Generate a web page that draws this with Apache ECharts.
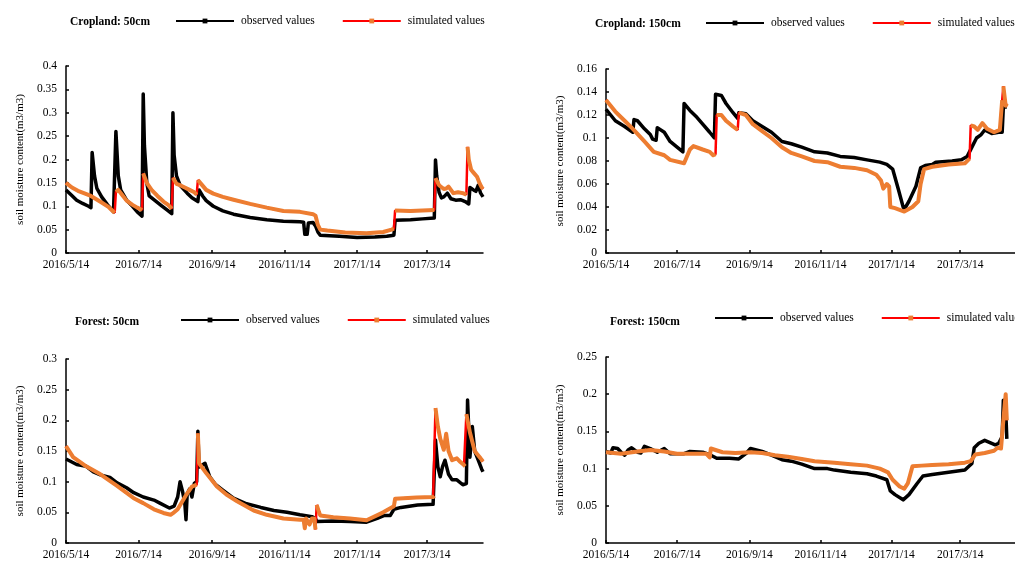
<!DOCTYPE html>
<html>
<head>
<meta charset="utf-8">
<script src="https://cdn.jsdelivr.net/npm/echarts@6/dist/echarts.min.js"></script>
<style>
  html, body { margin: 0; padding: 0; background: #fff; }
  #chart { width: 1015px; height: 563px; }
</style>
</head>
<body>
<div id="chart"></div>
<script>
// Daily axis: 2016/5/14 .. 2017/4/30 (day index 0 .. 351)
const START = { y: 2016, m: 4, d: 14 };
const DAY_COUNT = 352;
const tickLabels = ['2016/5/14', '2016/7/14', '2016/9/14', '2016/11/14', '2017/1/14', '2017/3/14'];

const panelTitles = ['Cropland: 50cm', 'Cropland: 150cm', 'Forest: 50cm', 'Forest: 150cm'];
const yMaxes = [0.4, 0.16, 0.3, 0.25];
const yIntervals = [0.05, 0.02, 0.05, 0.05];

// Soil moisture, [day since 2016/5/14, m3/m3]
const cropObs50 = [
  [0,0.135],[4,0.125],[9,0.113],[14,0.106],[19,0.100],[21,0.097],[22,0.215],[24,0.165],[26,0.138],
  [30,0.120],[35,0.103],[40,0.088],[41,0.085],[42,0.260],[44,0.165],[46,0.135],[51,0.113],[56,0.100],
  [60,0.088],[64,0.079],[65,0.340],[66,0.230],[68,0.150],[70,0.122],[75,0.112],[80,0.102],[85,0.092],
  [89,0.084],[90,0.300],[91,0.210],[93,0.165],[96,0.145],[102,0.128],[106,0.118],[111,0.110],[112,0.135],
  [115,0.122],[118,0.112],[124,0.100],[132,0.090],[141,0.083],[155,0.076],[169,0.071],[183,0.068],
  [197,0.067],[200,0.066],[201,0.040],[203,0.040],[204,0.064],[208,0.065],[210,0.058],[212,0.045],
  [214,0.038],[230,0.036],[245,0.033],[260,0.034],[270,0.036],[276,0.038],[277,0.070],[290,0.071],
  [300,0.073],[310,0.075],[311,0.199],[312,0.165],[314,0.130],[316,0.118],[318,0.120],[321,0.128],
  [324,0.116],[328,0.113],[332,0.114],[336,0.110],[339,0.105],[340,0.140],[343,0.135],[345,0.132],
  [347,0.145],[349,0.128],[351,0.120]
];
const cropSim50 = [
  [0,0.150],[5,0.140],[10,0.133],[15,0.128],[21,0.122],[30,0.108],[36,0.098],[41,0.086],[42,0.131],
  [44,0.135],[47,0.125],[51,0.112],[56,0.103],[60,0.097],[64,0.092],[65,0.170],[68,0.150],[72,0.135],
  [77,0.122],[82,0.110],[86,0.103],[89,0.095],[90,0.161],[93,0.148],[96,0.145],[100,0.140],[104,0.135],
  [108,0.130],[110,0.125],[111,0.156],[113,0.150],[118,0.135],[124,0.127],[132,0.120],[141,0.114],
  [155,0.105],[169,0.097],[183,0.090],[197,0.088],[208,0.083],[210,0.080],[212,0.060],[214,0.050],
  [220,0.048],[235,0.044],[253,0.042],[267,0.045],[274,0.050],[276,0.052],[277,0.091],[290,0.090],
  [300,0.091],[310,0.092],[311,0.160],[314,0.145],[318,0.137],[320,0.138],[322,0.142],[326,0.128],
  [330,0.130],[334,0.128],[337,0.125],[338,0.227],[339,0.200],[341,0.178],[343,0.172],[344,0.175],
  [346,0.163],[348,0.150],[350,0.140],[351,0.137]
];
const cropObs150 = [
  [0,0.125],[8,0.115],[16,0.110],[23,0.105],[24,0.116],[27,0.115],[33,0.108],[38,0.103],[40,0.099],
  [43,0.098],[44,0.109],[50,0.105],[55,0.097],[61,0.092],[66,0.088],[67,0.130],[72,0.124],[78,0.118],
  [83,0.112],[89,0.105],[93,0.100],[94,0.138],[99,0.137],[103,0.130],[109,0.122],[113,0.117],[114,0.122],
  [120,0.121],[126,0.115],[134,0.110],[142,0.105],[151,0.097],[159,0.095],[168,0.092],[179,0.088],
  [190,0.087],[201,0.084],[213,0.083],[224,0.081],[235,0.079],[241,0.077],[246,0.073],[251,0.055],
  [255,0.040],[256,0.038],[260,0.045],[266,0.058],[270,0.074],[274,0.076],[280,0.077],[283,0.079],
  [297,0.080],[305,0.081],[310,0.084],[315,0.094],[318,0.100],[322,0.103],[325,0.107],[331,0.104],
  [337,0.105],[340,0.105],[341,0.127],[344,0.127]
];
const cropSim150 = [
  [0,0.133],[8,0.123],[16,0.115],[23,0.108],[33,0.097],[41,0.088],[50,0.085],[55,0.081],[67,0.078],
  [68,0.079],[72,0.090],[75,0.093],[83,0.090],[89,0.088],[92,0.085],[94,0.086],[95,0.120],[99,0.120],
  [103,0.115],[109,0.110],[113,0.107],[114,0.122],[120,0.120],[126,0.112],[134,0.106],[142,0.100],
  [151,0.092],[159,0.087],[168,0.084],[179,0.080],[190,0.079],[201,0.075],[213,0.074],[224,0.072],
  [232,0.068],[236,0.063],[238,0.056],[241,0.060],[243,0.058],[244,0.040],[248,0.039],[256,0.036],
  [263,0.040],[268,0.045],[270,0.060],[273,0.073],[280,0.075],[294,0.077],[308,0.078],[312,0.082],
  [313,0.111],[316,0.110],[319,0.107],[323,0.113],[327,0.108],[333,0.105],[338,0.107],[340,0.133],
  [341,0.145],[343,0.128],[344,0.130]
];
const forObs50 = [
  [0,0.137],[9,0.128],[17,0.125],[23,0.116],[29,0.111],[37,0.107],[43,0.098],[51,0.090],[57,0.082],
  [65,0.075],[74,0.070],[79,0.065],[87,0.057],[91,0.060],[94,0.075],[96,0.100],[98,0.085],[100,0.065],
  [101,0.038],[102,0.080],[104,0.088],[106,0.075],[108,0.097],[110,0.100],[111,0.182],[112,0.124],
  [117,0.130],[121,0.108],[126,0.095],[132,0.086],[141,0.073],[152,0.064],[164,0.058],[175,0.053],
  [186,0.050],[197,0.046],[207,0.043],[210,0.040],[211,0.035],[225,0.036],[239,0.035],[253,0.034],
  [262,0.040],[268,0.045],[273,0.045],[276,0.055],[282,0.058],[296,0.062],[309,0.063],[310,0.065],
  [311,0.168],[313,0.124],[315,0.108],[317,0.125],[319,0.135],[322,0.112],[325,0.103],[329,0.103],
  [334,0.095],[337,0.097],[338,0.233],[340,0.140],[342,0.190],[344,0.150],[347,0.135],[350,0.120],
  [351,0.116]
];
const forSim50 = [
  [0,0.158],[6,0.140],[17,0.125],[29,0.112],[43,0.093],[57,0.073],[65,0.065],[74,0.055],[82,0.049],
  [88,0.046],[91,0.050],[94,0.055],[101,0.078],[106,0.092],[110,0.095],[111,0.179],[112,0.130],
  [118,0.114],[127,0.092],[135,0.079],[144,0.068],[158,0.053],[169,0.046],[183,0.040],[197,0.038],
  [200,0.038],[201,0.024],[202,0.040],[205,0.030],[207,0.040],[209,0.040],[210,0.022],[211,0.062],
  [213,0.050],[214,0.045],[225,0.042],[239,0.040],[253,0.037],[267,0.050],[276,0.060],[277,0.072],
  [295,0.074],[309,0.075],[310,0.077],[311,0.220],[313,0.190],[315,0.170],[318,0.152],[320,0.178],
  [322,0.150],[325,0.135],[329,0.138],[332,0.132],[335,0.127],[336,0.125],[337,0.210],[340,0.180],
  [342,0.165],[344,0.150],[346,0.145],[349,0.138],[351,0.133]
];
const forObs150 = [
  [0,0.123],[4,0.121],[6,0.128],[10,0.127],[13,0.122],[16,0.118],[19,0.125],[22,0.128],[27,0.122],
  [30,0.121],[33,0.130],[38,0.127],[44,0.122],[50,0.127],[55,0.120],[67,0.120],[72,0.123],[83,0.122],
  [90,0.118],[95,0.114],[106,0.114],[114,0.113],[120,0.120],[124,0.127],[134,0.123],[142,0.118],
  [151,0.112],[159,0.110],[168,0.106],[179,0.100],[190,0.100],[196,0.098],[210,0.095],[224,0.093],
  [232,0.090],[241,0.085],[244,0.070],[248,0.065],[255,0.058],[260,0.065],[267,0.080],[272,0.090],
  [280,0.092],[294,0.095],[308,0.098],[314,0.107],[316,0.128],[320,0.134],[325,0.138],[331,0.134],
  [334,0.132],[337,0.134],[340,0.143],[341,0.192],[343,0.180],[344,0.140]
];
const forSim150 = [
  [0,0.122],[13,0.120],[27,0.123],[38,0.125],[50,0.123],[61,0.120],[72,0.120],[86,0.120],[89,0.115],
  [90,0.127],[100,0.122],[111,0.121],[124,0.122],[134,0.121],[145,0.118],[156,0.116],[168,0.113],
  [179,0.110],[196,0.108],[210,0.106],[224,0.104],[235,0.100],[242,0.095],[246,0.085],[252,0.076],
  [256,0.073],[259,0.080],[263,0.103],[271,0.104],[280,0.105],[294,0.106],[308,0.108],[313,0.110],
  [317,0.119],[325,0.121],[333,0.124],[336,0.128],[339,0.127],[341,0.165],[343,0.200],[344,0.165]
];

const observedSets = [cropObs50, cropObs150, forObs50, forObs150];
const simulatedSets = [cropSim50, cropSim150, forSim50, forSim150];

const categories = [];
for (let i = 0; i < DAY_COUNT; i++) {
  const d = new Date(START.y, START.m, START.d + i);
  categories.push(d.getFullYear() + '/' + (d.getMonth() + 1) + '/' + d.getDate());
}

const FONT = 'Liberation Serif';
const ORANGE = '#ED7D31';
const RED = '#FF0000';

// Plot rectangles for the 2x2 layout (right column runs past the page edge)
const grids = [
  { left: 66, top: 66, width: 417, height: 187 },
  { left: 606, top: 69, width: 419, height: 184 },
  { left: 66, top: 359, width: 417, height: 184 },
  { left: 606, top: 357, width: 419, height: 186 }
];
const titlePos = [
  { left: 70, top: 16 }, { left: 595, top: 18 },
  { left: 75, top: 316 }, { left: 610, top: 316 }
];
const legendPos = [
  { left: 175, top: 15 }, { left: 705, top: 17 },
  { left: 180, top: 314 }, { left: 714, top: 312 }
];

// The orange trace is broken on sharp one-day rises so the red line shows there
function orangeTrace(points, yMax) {
  const out = [];
  for (let i = 0; i < points.length; i++) {
    if (i > 0) {
      const a = points[i - 1], b = points[i];
      if (b[0] - a[0] <= 1 && (b[1] - a[1]) / yMax > 0.06) out.push([a[0], '-']);
    }
    out.push(points[i]);
  }
  return out;
}

const showTick = (idx, value) => tickLabels.indexOf(value) >= 0;

const option = {
  animation: false,
  backgroundColor: '#fff',
  textStyle: { fontFamily: FONT, color: '#000' },
  title: panelTitles.map((t, i) => ({
    text: t, left: titlePos[i].left, top: titlePos[i].top, padding: 0,
    textStyle: { fontFamily: FONT, fontSize: 11.5, fontWeight: 'bold', color: '#000' }
  })),
  legend: legendPos.map(p => ({
    left: p.left, top: p.top, width: 600, padding: 0,
    itemWidth: 58, itemHeight: 6, itemGap: 27,
    data: ['observed values', 'simulated values'],
    textStyle: { fontFamily: FONT, fontSize: 11.5, color: '#000', padding: [0, 0, 0, 2] }
  })),
  grid: grids,
  xAxis: grids.map((g, i) => ({
    type: 'category', gridIndex: i, data: categories, boundaryGap: false,
    axisLine: { lineStyle: { color: '#000', width: 1.5 } },
    axisTick: { inside: true, length: 3, interval: showTick, lineStyle: { color: '#000', width: 1.5 } },
    axisLabel: { interval: showTick, margin: 6, fontFamily: FONT, fontSize: 11.5, color: '#000' },
    splitLine: { show: false }
  })),
  yAxis: grids.map((g, i) => ({
    type: 'value', gridIndex: i, min: 0, max: yMaxes[i], interval: yIntervals[i],
    name: 'soil moisture content(m3/m3)', nameLocation: 'middle', nameGap: 40,
    nameTextStyle: { fontFamily: FONT, fontSize: 11, color: '#000' },
    axisLine: { show: true, lineStyle: { color: '#000', width: 1.5 } },
    axisTick: { show: true, inside: true, length: 3, lineStyle: { color: '#000', width: 1.5 } },
    axisLabel: { margin: 9, fontFamily: FONT, fontSize: 11.5, color: '#000' },
    splitLine: { show: false }
  })),
  series: []
};

for (let i = 0; i < 4; i++) {
  option.series.push({
    name: 'observed values', type: 'line', xAxisIndex: i, yAxisIndex: i,
    data: observedSets[i], symbol: 'rect', symbolSize: 4, showSymbol: false,
    lineStyle: { color: '#000', width: 3.5, join: 'round' }, itemStyle: { color: '#000' },
    silent: true, z: 2
  });
  option.series.push({
    name: 'simulated values', type: 'line', xAxisIndex: i, yAxisIndex: i,
    data: simulatedSets[i], symbol: 'rect', symbolSize: 5, showSymbol: false,
    lineStyle: { color: RED, width: 2.5 }, itemStyle: { color: ORANGE },
    silent: true, z: 3
  });
  option.series.push({
    name: 'simulated trace', type: 'line', xAxisIndex: i, yAxisIndex: i,
    data: orangeTrace(simulatedSets[i], yMaxes[i]), symbol: 'none', connectNulls: false,
    lineStyle: { color: ORANGE, width: 4, join: 'round' },
    silent: true, z: 4
  });
}

const chart = echarts.init(document.getElementById('chart'), null, { renderer: 'canvas' });
chart.setOption(option);
</script>
</body>
</html>
